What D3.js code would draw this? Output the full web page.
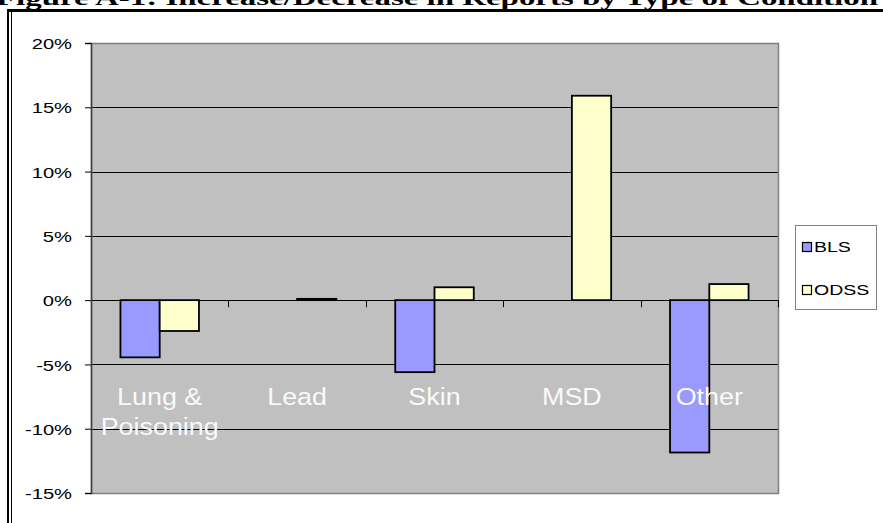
<!DOCTYPE html>
<html>
<head>
<meta charset="utf-8">
<script src="https://cdn.jsdelivr.net/npm/d3@7"></script>
<style>
  html, body { margin: 0; padding: 0; background: #fff; }
  svg { display: block; }
</style>
</head>
<body>
<svg id="chart" width="883" height="523"></svg>
<script>
// Percent change in reports, by condition type and data source
const categories = ["Lung & Poisoning", "Lead", "Skin", "MSD", "Other"];
const categoryLines = [["Lung &", "Poisoning"], ["Lead"], ["Skin"], ["MSD"], ["Other"]];
const seriesNames = ["BLS", "ODSS"];
const blsValues = [-4.45, 0, -5.6, 0, -11.85];
const odssValues = [-2.4, 0.1, 1.0, 15.9, 1.25];
const yTicks = [-15, -10, -5, 0, 5, 10, 15, 20];
const seriesColors = ["#9999FF", "#FFFFCC"];
const titleText = "Figure A-1: Increase/Decrease in Reports by Type of Condition";

const svg = d3.select("#chart");

// Layout of the plot area
const plot = { left: 91, right: 778, top: 43, bottom: 493 };

const x = d3.scaleBand().domain(categories).range([plot.left, plot.right]).paddingInner(0).paddingOuter(0);
const xs = d3.scaleBand().domain(seriesNames).range([0, x.bandwidth()]).paddingInner(0).paddingOuter(0.75);
const y = d3.scaleLinear().domain([-15, 20]).range([plot.bottom, plot.top]);
const color = d3.scaleOrdinal().domain(seriesNames).range(seriesColors);

const rows = categories.map((c, i) => ({
  category: c,
  values: [{ s: "BLS", v: blsValues[i] }, { s: "ODSS", v: odssValues[i] }]
}));

// Title (set above the document frame)
svg.append("text")
  .attr("x", -4).attr("y", 5)
  .attr("font-family", "Liberation Serif, Times New Roman, serif")
  .attr("font-weight", "bold")
  .attr("font-size", 22)
  .attr("textLength", 882)
  .attr("lengthAdjust", "spacingAndGlyphs")
  .attr("fill", "#000")
  .text(titleText);

// Frame borders
svg.append("rect").attr("x", 7).attr("y", 9).attr("width", 876).attr("height", 3).attr("fill", "#000");
svg.append("rect").attr("x", 7).attr("y", 9).attr("width", 2).attr("height", 514).attr("fill", "#000");
svg.append("rect").attr("x", 11).attr("y", 12).attr("width", 1).attr("height", 511).attr("fill", "#000");

// Plot background
svg.append("rect")
  .attr("x", plot.left).attr("y", plot.top)
  .attr("width", plot.right - plot.left).attr("height", plot.bottom - plot.top)
  .attr("fill", "#C0C0C0");

// Horizontal gridlines
svg.append("g")
  .selectAll("line")
  .data(yTicks.filter(t => t !== -15 && t !== 20))
  .join("line")
  .attr("x1", plot.left).attr("x2", plot.right)
  .attr("y1", d => Math.round(y(d)) + 0.5).attr("y2", d => Math.round(y(d)) + 0.5)
  .attr("stroke", "#000").attr("stroke-width", 1);

// Plot border
svg.append("rect")
  .attr("x", plot.left + 0.5).attr("y", plot.top + 0.5)
  .attr("width", plot.right - plot.left).attr("height", plot.bottom - plot.top)
  .attr("fill", "none").attr("stroke", "#808080").attr("stroke-width", 1.5);

// Bars
const groups = svg.append("g")
  .selectAll("g")
  .data(rows)
  .join("g")
  .attr("transform", d => `translate(${x(d.category)},0)`);

groups.selectAll("rect")
  .data(d => d.values.filter(e => e.v !== 0))
  .join("rect")
  .attr("x", d => xs(d.s))
  .attr("width", xs.bandwidth())
  .attr("y", d => y(Math.max(0, d.v)))
  .attr("height", d => Math.abs(y(d.v) - y(0)))
  .attr("fill", d => color(d.s))
  .attr("stroke", "#000")
  .attr("stroke-width", 1.8);

// Zero line with category boundary ticks
svg.append("line")
  .attr("x1", plot.left).attr("x2", plot.right)
  .attr("y1", Math.round(y(0)) + 0.5).attr("y2", Math.round(y(0)) + 0.5)
  .attr("stroke", "#000").attr("stroke-width", 1);

svg.append("g")
  .selectAll("line")
  .data(categories.slice(1).map(c => x(c)).concat([plot.right]))
  .join("line")
  .attr("x1", d => Math.round(d) + 0.5).attr("x2", d => Math.round(d) + 0.5)
  .attr("y1", y(0)).attr("y2", y(0) + 7)
  .attr("stroke", "#000").attr("stroke-width", 1);

// Category labels drawn inside the plot
const labelSize = 24;
const catLabels = svg.append("g")
  .selectAll("text")
  .data(categories.map((c, i) => ({ c, lines: categoryLines[i] })))
  .join("text")
  .attr("font-family", "Liberation Sans, Arial, sans-serif")
  .attr("font-size", labelSize)
  .attr("fill", "#FAFAFA")
  .attr("text-anchor", "middle")
  .attr("transform", d => `translate(${x(d.c) + x.bandwidth() / 2},${y(-8.15)}) scale(1.12,1)`);
catLabels.selectAll("tspan")
  .data(d => d.lines)
  .join("tspan")
  .attr("x", 0)
  .attr("dy", (d, i) => i === 0 ? 0 : 30)
  .text(d => d);

// Y axis
const yAxis = svg.append("g")
  .attr("transform", `translate(${plot.left},0)`)
  .call(d3.axisLeft(y).tickValues(yTicks).tickFormat(d => d + "%").tickSize(6).tickPadding(13));
yAxis.select(".domain").attr("stroke", "#404040").attr("stroke-width", 1.5);
yAxis.selectAll(".tick line").attr("stroke", "#000");
yAxis.selectAll(".tick text")
  .attr("font-family", "Liberation Sans, Arial, sans-serif")
  .attr("font-size", 15.5)
  .attr("fill", "#000")
  .attr("text-anchor", "end")
  .attr("x", 0)
  .attr("dy", "0.36em")
  .attr("transform", "translate(-19,0) scale(1.3,1)");

// Legend
const legend = svg.append("g");
legend.append("rect")
  .attr("x", 795.5).attr("y", 225.5).attr("width", 81).attr("height", 84)
  .attr("fill", "#fff").attr("stroke", "#808080").attr("stroke-width", 1);
const items = legend.selectAll("g.item")
  .data(seriesNames)
  .join("g")
  .attr("class", "item")
  .attr("transform", (d, i) => `translate(802,${247 + i * 43})`);
items.append("rect")
  .attr("x", 0.5).attr("y", -4.5).attr("width", 9).attr("height", 9)
  .attr("fill", d => color(d)).attr("stroke", "#000").attr("stroke-width", 1.2);
items.append("text")
  .attr("x", 0).attr("y", 0)
  .attr("dy", "0.36em")
  .attr("transform", "translate(12,0) scale(1.3,1)")
  .attr("font-family", "Liberation Sans, Arial, sans-serif")
  .attr("font-size", 15)
  .attr("fill", "#000")
  .text(d => d);
</script>
</body>
</html>
